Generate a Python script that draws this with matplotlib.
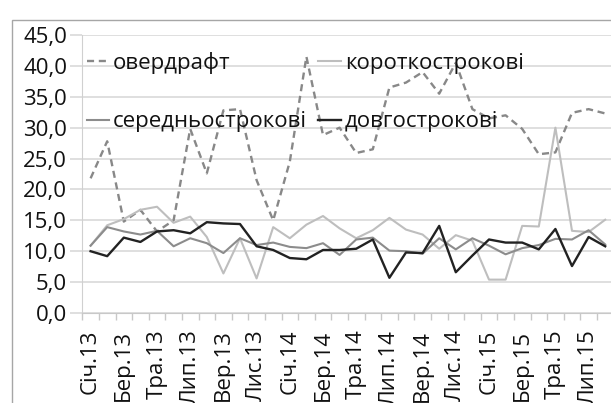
#!/usr/bin/env python

import numpy as np
import matplotlib
matplotlib.use('Agg')
import matplotlib.pyplot as plt
import matplotlib.patches as patches

plt.rcParams['font.family'] = ['Open Sans', 'DejaVu Sans']

# monthly data, Jan 2013 .. Aug 2015
month_names = ['Січ', 'Лют', 'Бер', 'Кві', 'Тра', 'Чер',
               'Лип', 'Сер', 'Вер', 'Жов', 'Лис', 'Гру']
years = ['13', '14', '15']
n_months = 32

overdraft = [21.8, 27.8, 14.8, 16.7, 13.2, 15.0, 29.8, 22.6, 32.8, 33.0,
             21.5, 15.0, 24.5, 41.5, 28.8, 30.0, 25.9, 26.5, 36.5, 37.3,
             39.0, 35.5, 40.5, 33.0, 31.5, 32.0, 29.8, 25.7, 26.0, 32.4,
             33.0, 32.3]
short_term = [10.9, 14.2, 15.2, 16.7, 17.2, 14.6, 15.6, 12.3, 6.4, 12.1,
              5.6, 13.9, 12.1, 14.3, 15.7, 13.7, 12.1, 13.4, 15.4, 13.5,
              12.7, 10.4, 12.6, 11.7, 5.4, 5.4, 14.1, 14.0, 30.0, 13.3,
              13.1, 15.1]
mid_term = [10.9, 13.9, 13.2, 12.7, 13.3, 10.8, 12.1, 11.3, 9.7, 12.1,
            11.0, 11.4, 10.7, 10.5, 11.3, 9.4, 11.9, 12.2, 10.1, 10.0,
            9.6, 12.1, 10.3, 12.1, 10.9, 9.5, 10.5, 11.0, 12.0, 11.9,
            13.4, 11.1]
long_term = [10.0, 9.2, 12.2, 11.5, 13.2, 13.4, 12.9, 14.7, 14.5, 14.4,
             10.8, 10.2, 8.9, 8.7, 10.2, 10.2, 10.4, 11.9, 5.7, 9.8,
             9.7, 14.1, 6.6, 9.3, 11.9, 11.4, 11.4, 10.3, 13.6, 7.6,
             12.3, 10.8]

series_names = ['овердрафт', 'короткострокові', 'середньострокові', 'довгострокові']

yticks = np.arange(0, 46, 5)


def main():
  W, H = 611, 403
  fig = plt.figure(figsize=(W/100, H/100), dpi=100)

  # axes box in pixels (left, top, right, bottom)
  L, T, R, B = 82.3, 35, 613.5, 313
  ax = fig.add_axes([L/W, 1-B/H, (R-L)/W, (B-T)/H])

  x = np.arange(n_months)
  labels = []
  for i in range(n_months):
    lab = month_names[i % 12] + '.' + years[i // 12]
    labels.append(lab if i % 2 == 0 else '')

  lo, = ax.plot(x, overdraft, color='#888888', lw=1.7, ls=(0, (3, 2)))
  ls_, = ax.plot(x, short_term, color='#bebebe', lw=1.5)
  lm, = ax.plot(x, mid_term, color='#8c8c8c', lw=1.5)
  ll, = ax.plot(x, long_term, color='#222222', lw=1.7)

  ax.set_xlim(-0.5, n_months-0.5)
  ax.set_ylim(0, 45)

  ax.set_yticks(yticks)
  ax.set_yticklabels(['{:.1f}'.format(v).replace('.', ',') for v in yticks])
  ax.grid(axis='y', color='#d9d9d9', lw=1.2)
  ax.set_axisbelow(True)

  ax.set_xticks(x)
  ax.set_xticklabels(labels, rotation=90, va='top', ha='center')
  ax.set_xticks(np.arange(-0.5, n_months, 1), minor=True)
  ax.tick_params(axis='x', which='major', length=0, pad=12, labelsize=16,
                 labelcolor='#111111')
  ax.tick_params(axis='x', which='minor', length=5, color='#c8c8c8', width=1)
  ax.tick_params(axis='y', length=9, color='#d9d9d9', width=1.2, pad=2,
                 labelsize=16, labelcolor='#111111')

  for s in ['top', 'right']:
    ax.spines[s].set_visible(False)
  ax.spines['left'].set_color('#d0d0d0')
  ax.spines['bottom'].set_color('#c8c8c8')

  # legend: two rows, two columns
  handles = [lo, lm, ls_, ll]
  names = [series_names[0], series_names[2], series_names[1], series_names[3]]
  ax.legend(handles, names, ncol=2, loc='upper left', frameon=False,
            bbox_to_anchor=(0.008, 0.94), borderaxespad=0, borderpad=0,
            handlelength=1.0, handletextpad=0.2, columnspacing=0.5,
            labelspacing=1.7, fontsize=16, labelcolor='#111111')

  # outer chart border
  fig.add_artist(patches.Rectangle((12/W, -0.1), 1.2, 1.1-20/H,
                                   transform=fig.transFigure, fill=False,
                                   edgecolor='#a6a6a6', lw=1.0))

  fig.savefig('out.png', dpi=100)


if __name__ == "__main__":
  main()
